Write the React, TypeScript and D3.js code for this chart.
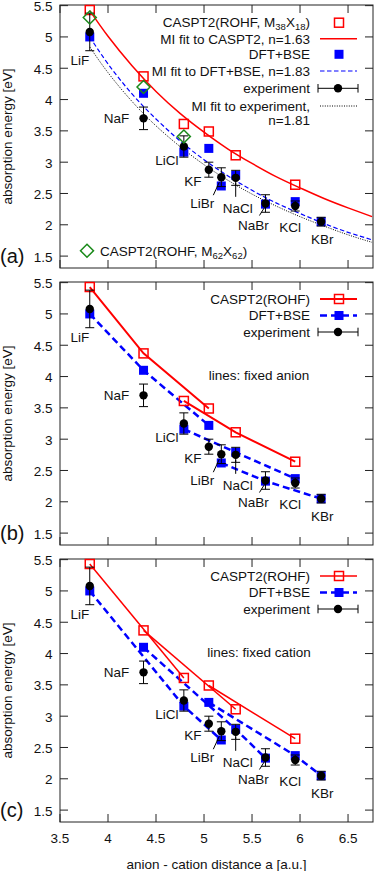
import React from 'react';
import * as d3 from 'd3';

// compounds and nearest-neighbour distance (a.u.)
const compounds = ['LiF', 'NaF', 'LiCl', 'KF', 'LiBr', 'NaCl', 'NaBr', 'KCl', 'KBr'];
const distance = [3.81, 4.37, 4.79, 5.05, 5.18, 5.33, 5.64, 5.95, 6.22];

// absorption energies [eV]
const casptEnergy = [5.43, 4.37, 3.61, 3.49, null, 3.11, null, 2.64, null];
const casptLargeEnergy = [5.31, 4.2, 3.41, null, null, null, null, null, null];
const dftEnergy = [5.0, 4.1, 3.16, 3.22, 2.62, 2.79, 2.33, 2.37, 2.05];
const expEnergy = [5.08, 3.7, 3.25, 2.88, 2.76, 2.75, 2.34, 2.3, 2.05];
const expError = [0.3, 0.18, 0.17, 0.12, 0.15, 0.12, 0.14, 0.08, 0.07];

// MI fit curves
const fitDistance = [3.81, 4.0, 4.25, 4.5, 4.75, 5.0, 5.25, 5.5, 5.75, 6.0, 6.25, 6.5, 6.75];
const casptFit = [5.42, 5.01, 4.54, 4.13, 3.78, 3.48, 3.21, 2.98, 2.77, 2.59, 2.42, 2.27, 2.13];
const dftFit = [5.0, 4.57, 4.09, 3.69, 3.34, 3.04, 2.78, 2.55, 2.35, 2.18, 2.02, 1.88, 1.76];
const expFit = [4.84, 4.43, 3.97, 3.58, 3.25, 2.96, 2.71, 2.49, 2.3, 2.13, 1.98, 1.84, 1.72];

const anionGroups = [['LiF', 'NaF', 'KF'], ['LiCl', 'NaCl', 'KCl'], ['LiBr', 'NaBr', 'KBr']];
const cationGroups = [['LiF', 'LiCl', 'LiBr'], ['NaF', 'NaCl', 'NaBr'], ['KF', 'KCl', 'KBr']];

const xTicks = [3.5, 4, 4.5, 5, 5.5, 6, 6.5];
const yTicks = [1.5, 2, 2.5, 3, 3.5, 4, 4.5, 5, 5.5];

// label placement relative to the experiment point (pixels)
const labelPos = {
  LiF: { dx: -10, dy: 28 },
  NaF: { dx: -27, dy: 0 },
  LiCl: { dx: -17, dy: 14 },
  KF: { dx: -16, dy: 12 },
  LiBr: { dx: -19, dy: 26, leader: [-8, 18, -2, 5] },
  NaCl: { dx: 2, dy: 30, leader: [0, 19, 0, 5] },
  NaBr: { dx: -12, dy: 22, leader: [-6, 12, -1, 4] },
  KCl: { dx: -5, dy: 21 },
  KBr: { dx: 1, dy: 18 },
};

const FONT = 'Liberation Sans, Arial, sans-serif';
const FS = 13.5;
const RED = '#ff0000';
const BLUE = '#0000ff';
const GREEN = '#1a8a1a';

const left = 60, right = 373, panelH = 263;
const x = d3.scaleLinear().domain([3.5, 6.76]).range([left, right]);

const Square = ({ cx, cy, filled, color }) => (
  <rect x={cx - 4.5} y={cy - 4.5} width={9} height={9}
    fill={filled ? color : 'none'} stroke={color} strokeWidth={filled ? 0 : 1.5} />
);

const ErrPoint = ({ cx, cy, y0, y1 }) => (
  <g stroke="#000" strokeWidth={1}>
    <line x1={cx} x2={cx} y1={y0} y2={y1} />
    <line x1={cx - 4.5} x2={cx + 4.5} y1={y0} y2={y0} />
    <line x1={cx - 4.5} x2={cx + 4.5} y1={y1} y2={y1} />
    <circle cx={cx} cy={cy} r={4.2} fill="#000" stroke="none" />
  </g>
);

const Panel = ({ top, tag, mode }) => {
  const y = d3.scaleLinear().domain([1.31, 5.51]).range([top + panelH, top]);
  const bottom = top + panelH;
  const idx = (name) => compounds.indexOf(name);
  const line = d3.line<[number, number]>().x(d => x(d[0])).y(d => y(d[1]));
  const fitLine = d3.line<number>().x((_, i) => x(fitDistance[i])).y(d => y(d)).curve(d3.curveNatural);

  const groups = mode === 'anion' ? anionGroups : cationGroups;
  const groupPath = (vals) => groups.map(g => {
    const pts = g.map(idx).filter(i => vals[i] != null).map(i => [distance[i], vals[i]] as [number, number]);
    return pts.length > 1 ? line(pts) : null;
  });
  const thick = mode === 'anion';

  return (
    <g>
      {/* frame and ticks */}
      <rect x={left} y={top} width={right - left} height={panelH} fill="none" stroke="#222" strokeWidth={1} />
      {yTicks.map(t => (
        <g key={'y' + t}>
          <line x1={left} x2={left + 8} y1={y(t)} y2={y(t)} stroke="#222" />
          <line x1={right - 8} x2={right} y1={y(t)} y2={y(t)} stroke="#222" />
          <text x={52.5} y={y(t) + 5.5} textAnchor="end" fontSize={FS} fontFamily={FONT} fill="#111">{t}</text>
        </g>
      ))}
      {xTicks.map(t => (
        <g key={'x' + t}>
          <line x1={x(t)} x2={x(t)} y1={bottom} y2={bottom - 8} stroke="#222" />
          <line x1={x(t)} x2={x(t)} y1={top} y2={top + 8} stroke="#222" />
        </g>
      ))}
      <text transform={`translate(11.5,${top + panelH / 2}) rotate(-90)`} textAnchor="middle"
        fontSize={FS} fontFamily={FONT} fill="#111">absorption energy [eV]</text>
      <text x={0} y={y(1.5) + 7} fontSize={20} fontFamily={FONT} fill="#111">{tag}</text>

      {/* lines */}
      {mode === 'fit' ? (
        <g fill="none">
          <path d={fitLine(casptFit)} stroke={RED} strokeWidth={1.5} />
          <path d={fitLine(dftFit)} stroke={BLUE} strokeWidth={1.2} strokeDasharray="4.5,2.5" />
          <path d={fitLine(expFit)} stroke="#000" strokeWidth={1} strokeDasharray="1,1.4" />
        </g>
      ) : (
        <g fill="none">
          {groupPath(casptEnergy).map((d, i) => d && <path key={'r' + i} d={d} stroke={RED} strokeWidth={thick ? 2 : 1.5} />)}
          {groupPath(dftEnergy).map((d, i) => d && <path key={'b' + i} d={d} stroke={BLUE} strokeWidth={2.5} strokeDasharray="7,4" />)}
        </g>
      )}

      {/* markers */}
      {casptEnergy.map((v, i) => v != null && <Square key={'c' + i} cx={x(distance[i])} cy={y(v)} color={RED} />)}
      {dftEnergy.map((v, i) => <Square key={'d' + i} cx={x(distance[i])} cy={y(v)} color={BLUE} filled />)}
      {expEnergy.map((v, i) => (
        <ErrPoint key={'e' + i} cx={x(distance[i])} cy={y(v)} y0={y(v + expError[i])} y1={y(v - expError[i])} />
      ))}
      {mode === 'fit' && casptLargeEnergy.map((v, i) => {
        if (v == null) return null;
        const cx = x(distance[i]), cy = y(v);
        return <path key={'g' + i} d={`M${cx},${cy - 6.5}L${cx + 6.5},${cy}L${cx},${cy + 6.5}L${cx - 6.5},${cy}Z`}
          fill="none" stroke={GREEN} strokeWidth={1.5} />;
      })}

      {/* compound labels */}
      {compounds.map((c, i) => {
        const p = labelPos[c];
        const px = x(distance[i]), py = y(expEnergy[i]);
        return (
          <g key={'l' + c}>
            {p.leader && <line x1={px + p.leader[0]} y1={py + p.leader[1]} x2={px + p.leader[2]} y2={py + p.leader[3]} stroke="#000" strokeWidth={1} />}
            <text x={px + p.dx} y={py + p.dy + 4.8} textAnchor="middle" fontSize={FS} fontFamily={FONT} fill="#111">{c}</text>
          </g>
        );
      })}

      {/* legends */}
      {mode === 'fit' ? (
        <g fontSize={FS} fontFamily={FONT} fill="#111" textAnchor="end">
          <text x={310} y={top + 22.3}>
            <tspan>CASPT2(ROHF, M</tspan><tspan fontSize={9.5} dy={3}>38</tspan><tspan dy={-3}>X</tspan><tspan fontSize={9.5} dy={3}>18</tspan><tspan dy={-3}>)</tspan>
          </text>
          <Square cx={339} cy={top + 17.7} color={RED} />
          <text x={310} y={top + 38.5}>MI fit to CASPT2, n=1.63</text>
          <line x1={320} x2={357} y1={top + 33.7} y2={top + 33.7} stroke={RED} strokeWidth={1.5} />
          <text x={310} y={top + 54.1}>DFT+BSE</text>
          <Square cx={339} cy={top + 49.3} color={BLUE} filled />
          <text x={310} y={top + 70.8}>MI fit to DFT+BSE, n=1.83</text>
          <line x1={320} x2={357} y1={top + 66} y2={top + 66} stroke={BLUE} strokeWidth={1.2} strokeDasharray="4.5,2.5" />
          <text x={310} y={top + 88.1}>experiment</text>
          <g stroke="#000">
            <line x1={318} x2={358} y1={top + 83.3} y2={top + 83.3} />
            <line x1={318} x2={318} y1={top + 79} y2={top + 87.6} />
            <line x1={358} x2={358} y1={top + 79} y2={top + 87.6} />
          </g>
          <circle cx={338} cy={top + 83.3} r={4.2} fill="#000" />
          <text x={310} y={top + 105.8}>MI fit to experiment,</text>
          <line x1={320} x2={357} y1={top + 101} y2={top + 101} stroke="#000" strokeWidth={1} strokeDasharray="1,1.4" />
          <text x={310} y={top + 120.3}>n=1.81</text>
          <path d={`M87,${top + 239.2}L93.5,${top + 245.7}L87,${top + 252.2}L80.5,${top + 245.7}Z`} fill="none" stroke={GREEN} strokeWidth={1.5} />
          <text x={100} y={top + 250.5} textAnchor="start">
            <tspan>CASPT2(ROHF, M</tspan><tspan fontSize={9.5} dy={3}>62</tspan><tspan dy={-3}>X</tspan><tspan fontSize={9.5} dy={3}>62</tspan><tspan dy={-3}>)</tspan>
          </text>
        </g>
      ) : (
        <g fontSize={FS} fontFamily={FONT} fill="#111" textAnchor="end">
          <text x={310} y={top + 21.8}>CASPT2(ROHF)</text>
          <line x1={320} x2={357} y1={top + 17} y2={top + 17} stroke={RED} strokeWidth={thick ? 2 : 1.5} />
          <Square cx={339} cy={top + 17} color={RED} />
          <text x={310} y={top + 38.3}>DFT+BSE</text>
          <line x1={320} x2={357} y1={top + 33.5} y2={top + 33.5} stroke={BLUE} strokeWidth={2.5} strokeDasharray="7,4" />
          <Square cx={339} cy={top + 33.5} color={BLUE} filled />
          <text x={310} y={top + 54.8}>experiment</text>
          <g stroke="#000">
            <line x1={318} x2={358} y1={top + 50} y2={top + 50} />
            <line x1={318} x2={318} y1={top + 45.7} y2={top + 54.3} />
            <line x1={358} x2={358} y1={top + 45.7} y2={top + 54.3} />
          </g>
          <circle cx={338} cy={top + 50} r={4.2} fill="#000" />
          <text x={259} y={top + 97.8} textAnchor="middle">{mode === 'anion' ? 'lines: fixed anion' : 'lines: fixed cation'}</text>
        </g>
      )}
    </g>
  );
};

export default function App() {
  const bottom = 559 + panelH;
  return (
    <svg width={374} height={871} style={{ position: 'absolute', left: 0, top: 0, background: '#fff' }}>
      <rect width={374} height={871} fill="#fff" />
      <Panel top={5} tag="(a)" mode="fit" />
      <Panel top={282} tag="(b)" mode="anion" />
      <Panel top={559} tag="(c)" mode="cation" />
      {xTicks.map(t => (
        <text key={t} x={x(t)} y={bottom + 21} textAnchor="middle" fontSize={FS} fontFamily={FONT} fill="#111">{t}</text>
      ))}
      <text x={216.5} y={869} textAnchor="middle" fontSize={FS} fontFamily={FONT} fill="#111">anion - cation distance a [a.u.]</text>
    </svg>
  );
}
